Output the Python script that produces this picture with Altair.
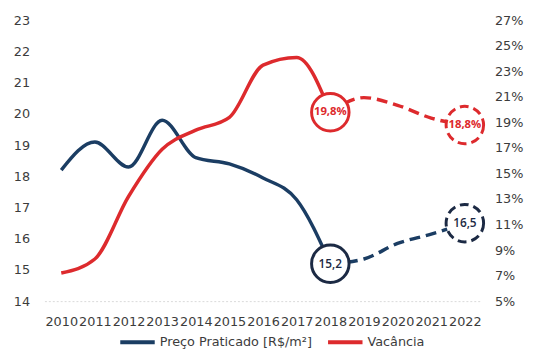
import altair as alt
import pandas as pd

SERIES = ["Preço Praticado [R$/m²]", "Vacância"]
BLUE = "#1b3d63"
BLUE_DARK = "#1c2a44"
RED = "#dd2a2d"
TEXT = "#3c3c3c"

years = list(range(2010, 2023))

years_hist = [2010, 2011, 2012, 2013, 2014, 2015, 2016, 2017, 2018]
preco_hist = [18.2, 19.1, 18.3, 19.8, 18.6, 18.4, 17.95, 17.25, 15.2]
vac_hist = [7.2, 8.3, 13.2, 16.9, 18.4, 19.4, 23.5, 24.1, 19.8]

years_proj = [2018, 2019, 2020, 2021, 2022]
preco_proj = [15.2, 15.35, 15.85, 16.15, 16.5]
vac_proj = [19.8, 20.95, 20.35, 19.35, 18.8]

mark_years_hist = [2018]
mark_years_proj = [2022]
preco_marks_hist = [15.2]
preco_marks_proj = [16.5]
vac_marks_hist = [19.8]
vac_marks_proj = [18.8]
preco_labels = ["15,2", "16,5"]
vac_labels = ["19,8%", "18,8%"]

df_p_hist = pd.DataFrame({"ano": years_hist, "v": preco_hist, "serie": SERIES[0]})
df_p_proj = pd.DataFrame({"ano": years_proj, "v": preco_proj})
df_v_hist = pd.DataFrame({"ano": years_hist, "v": vac_hist, "serie": SERIES[1]})
df_v_proj = pd.DataFrame({"ano": years_proj, "v": vac_proj})
df_p_mh = pd.DataFrame({"ano": mark_years_hist, "v": preco_marks_hist})
df_p_mp = pd.DataFrame({"ano": mark_years_proj, "v": preco_marks_proj})
df_v_mh = pd.DataFrame({"ano": mark_years_hist, "v": vac_marks_hist})
df_v_mp = pd.DataFrame({"ano": mark_years_proj, "v": vac_marks_proj})
df_p_lab = pd.DataFrame({"ano": mark_years_hist + mark_years_proj,
                         "v": preco_marks_hist + preco_marks_proj, "t": preco_labels})
df_v_lab = pd.DataFrame({"ano": mark_years_hist + mark_years_proj,
                         "v": vac_marks_hist + vac_marks_proj, "t": vac_labels})

x_enc = alt.X("ano:Q",
              scale=alt.Scale(domain=[2009.5, 2022.5], nice=False, zero=False),
              axis=alt.Axis(values=years, format="d", title=None, grid=False,
                            ticks=False, labelPadding=15, labelOverlap=False,
                            labelFlush=False, domain=True, domainColor="#d9d9d9",
                            domainDash=[2, 2], domainWidth=1))

y_left = alt.Y("v:Q",
               scale=alt.Scale(domain=[14, 23], nice=False, zero=False),
               axis=alt.Axis(orient="left", values=list(range(14, 24)), title=None,
                             grid=False, domain=False, ticks=False, labelPadding=15))

y_right = alt.Y("v:Q",
                scale=alt.Scale(domain=[5, 27], nice=False, zero=False),
                axis=alt.Axis(orient="right", values=list(range(5, 28, 2)), title=None,
                              grid=False, domain=False, ticks=False, labelPadding=13,
                              labelExpr="datum.value + '%'"))

color_enc = alt.Color("serie:N",
                      scale=alt.Scale(domain=SERIES, range=[BLUE, RED]),
                      legend=alt.Legend(title=None, orient="none", legendX=75, legendY=307,
                                        direction="horizontal", symbolType="stroke",
                                        symbolSize=1225, symbolStrokeWidth=4,
                                        columnPadding=8, labelOffset=3))

LW = 3.5

left = alt.layer(
    alt.Chart(df_p_hist).mark_line(strokeWidth=LW, interpolate="monotone").encode(
        x=x_enc, y=y_left, color=color_enc),
    alt.Chart(df_p_proj).mark_line(strokeWidth=LW, interpolate="monotone", color=BLUE,
                                   strokeDash=[11, 6]).encode(x=x_enc, y=y_left),
    alt.Chart(df_p_mh).mark_point(shape="circle", size=1450, filled=True, fill="white",
                                  fillOpacity=1, opacity=1, stroke=BLUE_DARK,
                                  strokeWidth=3).encode(x=x_enc, y=y_left),
    alt.Chart(df_p_mp).mark_point(shape="circle", size=1450, filled=True, fill="white",
                                  fillOpacity=1, opacity=1, stroke=BLUE_DARK,
                                  strokeWidth=3, strokeDash=[9, 5]).encode(x=x_enc, y=y_left),
    alt.Chart(df_p_lab).mark_text(font="Open Sans", fontSize=12, fontWeight=600,
                                  color=BLUE_DARK).encode(x=x_enc, y=y_left, text="t:N"),
)

right = alt.layer(
    alt.Chart(df_v_hist).mark_line(strokeWidth=LW, interpolate="monotone").encode(
        x=x_enc, y=y_right, color=color_enc),
    alt.Chart(df_v_proj).mark_line(strokeWidth=LW, interpolate="monotone", color=RED,
                                   strokeDash=[11, 6]).encode(x=x_enc, y=y_right),
    alt.Chart(df_v_mh).mark_point(shape="circle", size=1450, filled=True, fill="white",
                                  fillOpacity=1, opacity=1, stroke=RED,
                                  strokeWidth=3).encode(x=x_enc, y=y_right),
    alt.Chart(df_v_mp).mark_point(shape="circle", size=1450, filled=True, fill="white",
                                  fillOpacity=1, opacity=1, stroke=RED,
                                  strokeWidth=3, strokeDash=[9, 5]).encode(x=x_enc, y=y_right),
    alt.Chart(df_v_lab).mark_text(font="Open Sans", fontSize=11.5, fontWeight="bold",
                                  color=RED).encode(x=x_enc, y=y_right, text="t:N"),
)

chart = alt.layer(left, right).resolve_scale(y="independent").properties(
    width=444, height=285,
    autosize=alt.AutoSizeParams(type="none"),
    padding={"left": 37, "top": 10, "right": 44, "bottom": 48},
).configure_view(stroke=None).configure_axis(
    labelFont="DejaVu Sans", labelFontSize=13, labelColor=TEXT
).configure_legend(
    labelFont="DejaVu Sans", labelFontSize=13, labelColor=TEXT
)

chart.save("out.html", embed_options={"renderer": "svg", "actions": False})
